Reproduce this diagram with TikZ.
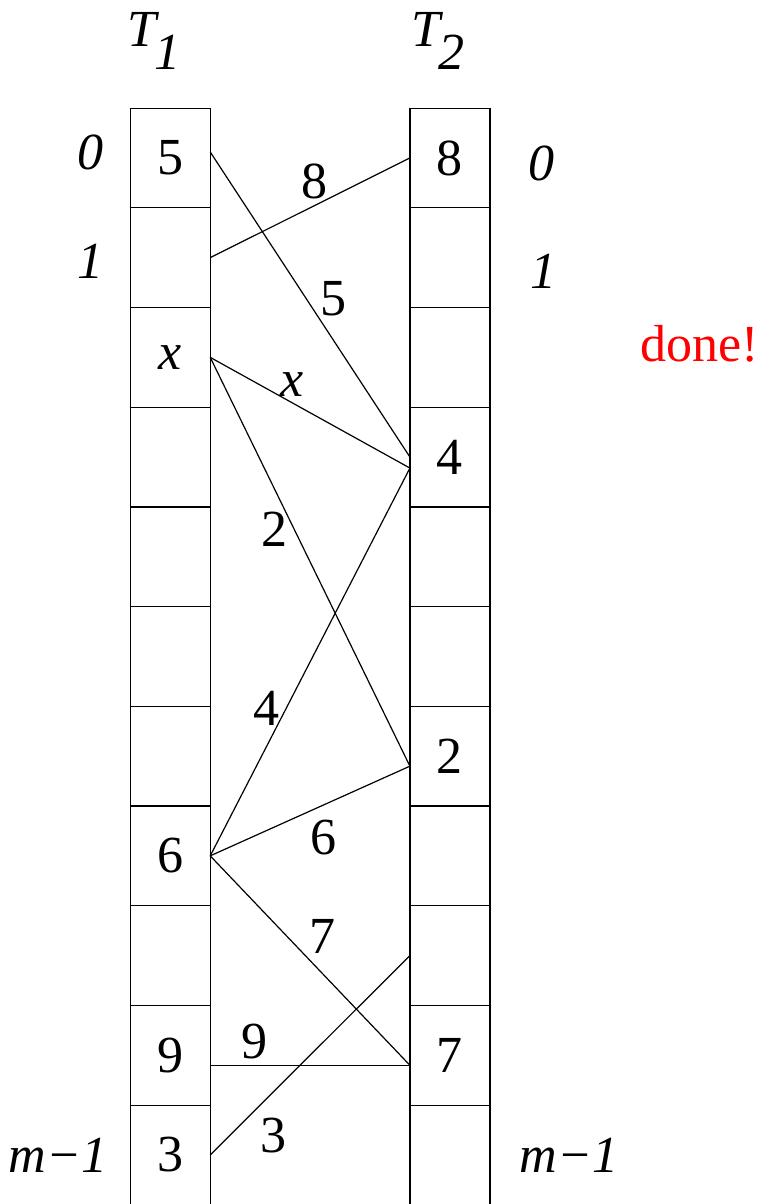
\documentclass[tikz,border=0pt]{standalone}
\usepackage{fontspec}
\setmainfont{Liberation Serif}
\usetikzlibrary{positioning}
\newcommand{\bigsz}{\fontsize{26}{31}\selectfont}

\begin{document}
\begin{tikzpicture}[font=\bigsz, line width=0.6pt,
      cell/.style={draw, minimum width=40pt, minimum height=49.8pt, inner sep=0pt, outer sep=0pt},
      idx/.style={font=\bigsz\itshape, inner sep=3pt},
      lbl/.style={inner sep=3pt}]
    \useasboundingbox (0,0) rectangle (384.5pt,-601.4pt);
    % the two tables, slot by slot
    \foreach \i/\u/\v in {0/5/8, 1/{}/{}, 2/\textit{x}/{}, 3/{}/4, 4/{}/{}, 5/{}/{},
                          6/{}/2, 7/6/{}, 8/{}/{}, 9/9/7, 10/3/{}} {
      \node[cell] (a\i) at (85pt,{-78.9pt-\i*49.8pt}) {\u};
      \node[cell, right=99.75pt of a\i] (b\i) {\v};
    }
    \node[lbl, above=16pt of a0, xshift=-8pt] (t1) {\itshape T\kern-1pt\raisebox{-11.5pt}{1}};
    \node[lbl, above=16pt of b0, xshift=-6pt] (t2) {\itshape T\kern-1pt\raisebox{-11.5pt}{2}};
    % slot numbers
    \node[idx, left=10pt of a0, yshift=3pt] (l0) {0};
    \node[idx, left=10pt of a1, yshift=-2pt] (l1) {1};
    \node[idx, left=8pt of a10] (lm) {m−1};
    \node[idx, right=16pt of b0, yshift=-2.5pt] (r0) {0};
    \node[idx, right=17pt of b1, yshift=-7pt] (r1) {1};
    \node[idx, right=11.5pt of b10] (rm) {m−1};
    \node[lbl, right=72pt of b2, yshift=7pt, text=red] (done) {done!};
    % moves between the tables
    \draw ([yshift=3pt]a0.east) -- node[lbl, pos=0.56, above right, xshift=-4pt] (w5) {5} (b3.west);
    \draw (b0.west) -- node[lbl, pos=0.48, above] (w8) {8} (a1.east);
    \draw (a2.east) -- node[lbl, pos=0.41, above] (wx) {\textit{x}} ([yshift=-5.5pt]b3.west);
    \draw (a2.east) -- node[lbl, pos=0.42, left] (w2) {2} ([yshift=-5pt]b6.west);
    \draw ([yshift=-5.5pt]b3.west) -- node[lbl, pos=0.62, left] (w4) {4} (a7.east);
    \draw (a7.east) -- node[lbl, pos=0.47, below right] (w6) {6} ([yshift=-5pt]b6.west);
    \draw (a7.east) -- node[lbl, pos=0.5, above right, xshift=-3.5pt] (w7) {7} ([yshift=-5pt]b9.west);
    \draw ([yshift=-5pt]a9.east) -- node[lbl, pos=0.22, above] (w9) {9} ([yshift=-5pt]b9.west);
    \draw (a10.east) -- node[lbl, pos=0.22, below right] (w3) {3} (b8.west);
\end{tikzpicture}
\end{document}
